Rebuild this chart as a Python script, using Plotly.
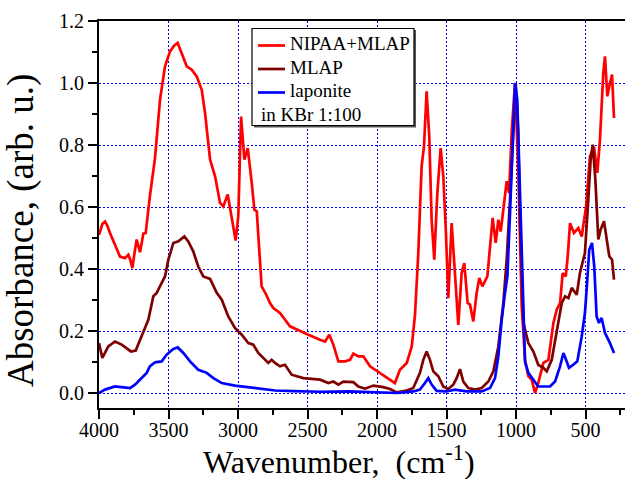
import plotly.graph_objects as go

# NIPAA+MLAP (red)
red_x = [4000, 3976, 3957, 3940, 3921, 3885, 3849, 3813, 3789, 3775, 3760, 3745, 3729, 3705, 3681, 3664, 3634, 3597,
         3561, 3525, 3489, 3460, 3434, 3401, 3369, 3333, 3297, 3261, 3237, 3201, 3165, 3129, 3106, 3074, 3045, 3017,
         2998, 2978, 2954, 2930, 2901, 2882, 2865, 2830, 2800, 2770, 2746, 2698, 2626, 2554, 2494, 2410, 2374, 2343,
         2314, 2278, 2230, 2194, 2170, 2134, 2098, 2050, 1978, 1919, 1871, 1835, 1786, 1750, 1727, 1703, 1679, 1662,
         1643, 1624, 1607, 1588, 1566, 1542, 1523, 1504, 1487, 1463, 1439, 1415, 1391, 1372, 1348, 1331, 1307, 1283,
         1264, 1242, 1206, 1187, 1168, 1146, 1127, 1110, 1086, 1067, 1050, 1030, 1007, 983, 959, 935, 911, 887, 863,
         840, 803, 767, 731, 707, 683, 664, 642, 628, 611, 583, 552, 527, 496, 468, 439, 415, 396, 372, 360, 343, 329,
         309, 295]
red_y = [0.51, 0.545, 0.553, 0.54, 0.516, 0.478, 0.44, 0.435, 0.446, 0.43, 0.403, 0.45, 0.495, 0.454, 0.514, 0.516,
         0.634, 0.758, 0.946, 1.054, 1.102, 1.12, 1.129, 1.091, 1.054, 1.043, 1.021, 0.978, 0.903, 0.753, 0.699, 0.613,
         0.602, 0.640, 0.559, 0.492, 0.570, 0.892, 0.753, 0.790, 0.677, 0.591, 0.586, 0.344, 0.32, 0.29, 0.274, 0.258,
         0.215, 0.199, 0.188, 0.172, 0.166, 0.188, 0.156, 0.102, 0.102, 0.107, 0.127, 0.118, 0.118, 0.086, 0.065,
         0.048, 0.032, 0.075, 0.097, 0.150, 0.250, 0.45, 0.731, 0.795, 0.973, 0.828, 0.559, 0.430, 0.645, 0.790, 0.699,
         0.516, 0.306, 0.548, 0.387, 0.220, 0.387, 0.419, 0.290, 0.285, 0.231, 0.323, 0.371, 0.344, 0.376, 0.473,
         0.565, 0.484, 0.559, 0.521, 0.613, 0.683, 0.645, 0.85, 1.0, 0.71, 0.28, 0.107, 0.054, 0.043, 0.0, 0.032,
         0.097, 0.107, 0.226, 0.269, 0.290, 0.387, 0.376, 0.441, 0.548, 0.516, 0.532, 0.505, 0.602, 0.763, 0.795,
         0.71, 0.817, 1.032, 1.086, 0.957, 0.989, 1.027, 0.887]

# MLAP (dark red)
mlap_x = [4000, 3976, 3933, 3885, 3837, 3801, 3770, 3736, 3693, 3645, 3609, 3585, 3549, 3525, 3501, 3465, 3429, 3386,
          3358, 3322, 3286, 3250, 3201, 3153, 3117, 3070, 3022, 2973, 2926, 2890, 2854, 2818, 2782, 2758, 2734, 2698,
          2662, 2614, 2530, 2410, 2350, 2314, 2278, 2242, 2170, 2134, 2086, 2026, 1954, 1906, 1858, 1786, 1739, 1691,
          1667, 1643, 1619, 1595, 1559, 1523, 1487, 1451, 1427, 1403, 1379, 1343, 1295, 1247, 1199, 1163, 1127, 1091,
          1067, 1043, 1019, 1002, 985, 971, 947, 911, 875, 840, 803, 779, 743, 707, 671, 647, 623, 599, 563, 540, 504,
          480, 463, 448, 429, 408, 391, 367, 348, 329, 309, 295]
mlap_y = [0.161, 0.113, 0.150, 0.166, 0.156, 0.145, 0.134, 0.137, 0.183, 0.236, 0.312, 0.323, 0.355, 0.376, 0.430,
          0.484, 0.489, 0.505, 0.489, 0.457, 0.408, 0.376, 0.368, 0.323, 0.301, 0.247, 0.210, 0.188, 0.161, 0.156,
          0.129, 0.113, 0.097, 0.107, 0.097, 0.086, 0.091, 0.059, 0.048, 0.043, 0.032, 0.037, 0.027, 0.037, 0.035,
          0.021, 0.014, 0.024, 0.019, 0.013, 0.002, 0.008, 0.016, 0.065, 0.107, 0.134, 0.107, 0.070, 0.054, 0.021,
          0.013, 0.027, 0.048, 0.077, 0.037, 0.016, 0.011, 0.016, 0.037, 0.070, 0.150, 0.290, 0.430, 0.624, 0.860,
          1.0, 0.85, 0.559, 0.226, 0.161, 0.134, 0.091, 0.081, 0.070, 0.107, 0.194, 0.290, 0.312, 0.306, 0.339, 0.317,
          0.387, 0.452, 0.624, 0.753, 0.801, 0.688, 0.495, 0.527, 0.554, 0.495, 0.441, 0.430, 0.366]

# laponite (blue)
lap_x = [4000, 3957, 3885, 3813, 3777, 3741, 3693, 3657, 3634, 3597, 3549, 3513, 3465, 3434, 3393, 3345, 3286, 3225,
         3177, 3117, 3022, 2926, 2830, 2734, 2600, 2410, 2200, 2000, 1850, 1739, 1691, 1655, 1631, 1607, 1571, 1499,
         1439, 1355, 1247, 1187, 1151, 1127, 1103, 1079, 1062, 1043, 1024, 1007, 991, 971, 947, 935, 911, 875, 840,
         755, 719, 683, 659, 640, 619, 588, 559, 527, 504, 487, 473, 453, 437, 420, 403, 384, 360, 324, 295]
lap_y = [0.0, 0.011, 0.021, 0.019, 0.016, 0.027, 0.048, 0.065, 0.086, 0.099, 0.102, 0.124, 0.142, 0.147, 0.129, 0.102,
         0.075, 0.065, 0.048, 0.032, 0.024, 0.019, 0.013, 0.008, 0.006, 0.004, 0.005, 0.003, 0.0, 0.005, 0.011, 0.032,
         0.048, 0.027, 0.007, 0.005, 0.011, 0.005, 0.005, 0.016, 0.048, 0.118, 0.236, 0.323, 0.376, 0.581, 0.806, 1.0,
         0.946, 0.645, 0.301, 0.10, 0.065, 0.043, 0.021, 0.021, 0.037, 0.086, 0.129, 0.107, 0.081, 0.091, 0.102,
         0.183, 0.258, 0.366, 0.462, 0.484, 0.408, 0.247, 0.226, 0.242, 0.194, 0.161, 0.129]

series_names = ["NIPAA+MLAP", "MLAP", "laponite"]
series_colors = ["#FF0000", "#800000", "#0000FF"]
legend_note = "in KBr 1:100"
x_ticks = [4000, 3500, 3000, 2500, 2000, 1500, 1000, 500]
y_ticks = [0.0, 0.2, 0.4, 0.6, 0.8, 1.0, 1.2]

FONT = "Liberation Serif, Times New Roman, serif"

fig = go.Figure()
for xs, ys, nm, col in zip([red_x, mlap_x, lap_x], [red_y, mlap_y, lap_y], series_names, series_colors):
    fig.add_trace(go.Scatter(x=xs, y=ys, mode="lines", name=nm, showlegend=False,
                             line=dict(color=col, width=2.7)))

L, R, T, B = 99, 625, 21, 408
W, H = 625, 479


def px(xp):
    return (xp - L) / (R - L)


def py(yp):
    return (B - yp) / (B - T)


shapes = [
    dict(type="rect", xref="paper", yref="paper",
         x0=px(254), x1=px(416), y0=py(127.5), y1=py(30),
         line=dict(width=0), fillcolor="#555555", layer="above"),
    dict(type="rect", xref="paper", yref="paper",
         x0=px(252), x1=px(414), y0=py(125.5), y1=py(28.5),
         line=dict(width=1.2, color="black"), fillcolor="white", layer="above"),
]
annotations = []
line_ys = [45.5, 69.0, 92.5]
text_ys = [43.7, 67.2, 90.7]
for nm, col, ly, ty in zip(series_names, series_colors, line_ys, text_ys):
    shapes.append(dict(type="line", xref="paper", yref="paper",
                       x0=px(258), x1=px(285), y0=py(ly), y1=py(ly),
                       line=dict(color=col, width=2.7), layer="above"))
    annotations.append(dict(text=nm, xref="paper", yref="paper", x=px(288), y=py(ty),
                            xanchor="left", yanchor="middle", showarrow=False,
                            font=dict(family=FONT, size=19, color="black")))
annotations.append(dict(text=legend_note, xref="paper", yref="paper", x=px(259), y=py(114.2),
                        xanchor="left", yanchor="middle", showarrow=False,
                        font=dict(family=FONT, size=19, color="black")))
# axis titles
annotations.append(dict(text="Wavenumber,&nbsp; (cm<sup>-1</sup>)", xref="paper", yref="paper",
                        x=px(339), y=py(460), xanchor="center", yanchor="middle", showarrow=False,
                        font=dict(family=FONT, size=32, color="black")))
annotations.append(dict(text="Absorbance, (arb. u.)", xref="paper", yref="paper",
                        x=px(21), y=py(231), xanchor="center", yanchor="middle", showarrow=False,
                        textangle=-90, font=dict(family=FONT, size=37, color="black")))

fig.update_layout(
    width=W, height=H,
    margin=dict(l=L, r=W - R, t=T, b=H - B, autoexpand=False),
    paper_bgcolor="white", plot_bgcolor="white",
    font=dict(family=FONT, color="black", size=20),
    showlegend=False,
    xaxis=dict(range=[4000, 4000 - (R - L) / 0.1390], tickvals=x_ticks, automargin=False,
               ticks="outside", ticklen=9, tickwidth=1.5, tickcolor="black",
               ticklabelstandoff=-6,
               showline=True, linecolor="black", linewidth=2, mirror=True,
               showgrid=True, gridcolor="#0000FF", griddash="2px,2px", gridwidth=1,
               zeroline=False,
               minor=dict(dtick=250, tick0=0, ticks="outside", ticklen=5, tickwidth=1.5,
                          tickcolor="black", showgrid=False),
               tickfont=dict(family=FONT, size=20)),
    yaxis=dict(range=[-0.0484, 1.2], tickvals=y_ticks, tickformat=".1f", automargin=False,
               ticks="outside", ticklen=9, tickwidth=1.5, tickcolor="black",
               showline=True, linecolor="black", linewidth=2, mirror=False,
               showgrid=True, gridcolor="#0000FF", griddash="2px,2px", gridwidth=1,
               zeroline=False,
               minor=dict(dtick=0.1, tick0=0, ticks="outside", ticklen=5, tickwidth=1.5,
                          tickcolor="black", showgrid=False),
               tickfont=dict(family=FONT, size=20)),
    shapes=shapes,
    annotations=annotations,
)

fig.write_html("out.html", config={"displayModeBar": False},
               post_script="document.body.style.margin='0px';")
